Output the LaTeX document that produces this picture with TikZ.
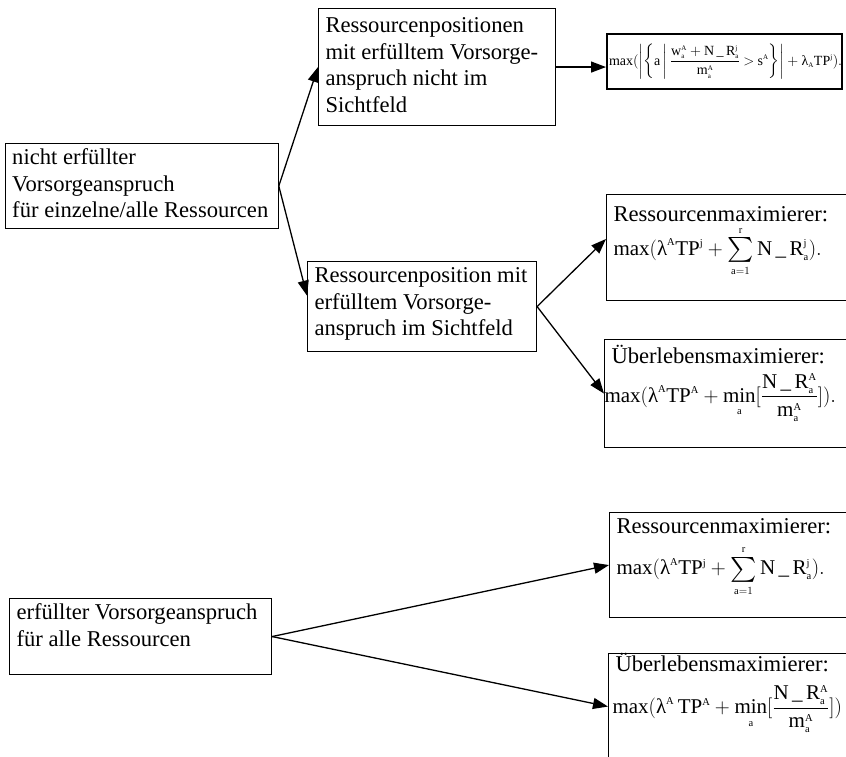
\documentclass[tikz,border=0pt]{standalone}
\usepackage{amsmath}
\usepackage{graphicx}
\usepackage{fontspec}
\setmainfont{Liberation Serif}
\usetikzlibrary{arrows.meta,calc}

% #1 width, #2 height, #3 top padding, #4 lines
\newcommand\boxtext[4]{%
  \parbox[c][#2pt][t]{#1pt}{\fontsize{22.6}{26.7}\selectfont\vspace*{#3pt}#4}}
\newcommand\up[1]{\mathrm{#1}}
\newcommand\tsup[1]{^{\scriptscriptstyle\mathrm{#1}}}
\newcommand\tsub[1]{_{\scriptscriptstyle\mathrm{#1}}}
\newcommand\lam{\text{λ}}
\newcommand\NR{\up{N}\,\_\,\up{R}}
\newcommand\midsum{\mathop{\vcenter{\hbox{\scalebox{1.2}{$\textstyle\sum$}}}}\limits}
\newcommand\tight{\medmuskip=4mu plus 1mu\thickmuskip=4mu plus 2mu}
\newcommand\sumform{\up{max}(\lam\tsup{A}\up{TP}\tsup{j}+\midsum_{\scriptscriptstyle\up{a}=1}^{\scriptscriptstyle\up{r}}\NR\tsup{j}\tsub{a})}
\newcommand\minform[1]{\up{max}(\lam\tsup{A}#1\up{TP}\tsup{A}+\mathop{\up{min}}\limits\tsub{a}[\frac{\NR\tsup{A}\tsub{a}}{\up{m}\tsup{A}\tsub{a}}])}
\newcommand\formsize{\fontsize{21}{24}\selectfont\tight}

\tikzset{
  frame/.style={draw, line width=1.1pt, rectangle, anchor=north west,
    inner xsep=7pt, inner ysep=0pt, fill=white},
  link/.style={line width=1.3pt, -{Triangle[length=15pt,width=11pt]}},
}

\begin{document}
\begin{tikzpicture}[x=1pt,y=1pt]
\useasboundingbox (0,0) rectangle (846,-757);
\clip (0,0) rectangle (846,-757);

% left column
\node[frame, minimum width=273pt, minimum height=85pt] (A) at (4.7,-143)
  {\boxtext{259}{85}{5}{\mbox{nicht erfüllter}\\\mbox{Vorsorgeanspruch}\\\mbox{für einzelne/alle Ressourcen}}};
\node[frame, minimum width=262pt, minimum height=76pt] (G) at (9,-598)
  {\boxtext{248}{76}{5}{\mbox{erfüllter Vorsorgeanspruch}\\\mbox{für alle Ressourcen}}};

% middle column
\node[frame, minimum width=237pt, minimum height=117pt] (B) at (318,-8)
  {\boxtext{223}{117}{9}{\mbox{Ressourcenpositionen}\\\mbox{mit erfülltem Vorsorge-}\\\mbox{anspruch nicht im}\\\mbox{Sichtfeld}}};
\node[frame, minimum width=229pt, minimum height=90pt] (C) at (307,-261)
  {\boxtext{215}{90}{6}{\mbox{Ressourcenposition mit}\\\mbox{erfülltem Vorsorge-}\\\mbox{anspruch im Sichtfeld}}};

% right column
\node[frame, line width=2pt, inner xsep=2pt, minimum width=235pt, minimum height=55pt] (F) at (606,-33)
  {\makebox[231pt][l]{\fontsize{14}{17}\selectfont\tight$\displaystyle
   \up{max}(\left|\left\{\up{a}\,\middle|\,\frac{\up{w}\tsup{A}\tsub{a}+\NR\tsup{j}\tsub{a}}{\up{m}\tsup{A}\tsub{a}}>\up{s}\tsup{A}\right\}\right|+\lam\tsub{A}\up{TP}\tsup{j}).$}};

\node[frame, minimum width=260pt, minimum height=106pt] (D) at (606,-194)
  {\boxtext{246}{106}{12}{\mbox{Ressourcenmaximierer:}\\[7pt]\mbox{\formsize\smash{$\displaystyle\sumform.$}}}};
\node[frame, minimum width=260pt, minimum height=108pt] (E) at (604,-339)
  {\boxtext{246}{108}{5.5}{\mbox{Überlebensmaximierer:}\\[12pt]\mbox{\hspace*{-7pt}\formsize\smash{$\displaystyle\minform{}.$}}}};
\node[frame, minimum width=260pt, minimum height=105pt] (H) at (609,-512)
  {\boxtext{246}{105}{5.5}{\mbox{Ressourcenmaximierer:}\\[15pt]\mbox{\formsize\smash{$\displaystyle\sumform.$}}}};
\node[frame, minimum width=260pt, minimum height=106pt] (I) at (608,-653)
  {\boxtext{246}{106}{0}{\mbox{Überlebensmaximierer:}\\[15pt]\mbox{\hspace*{-3pt}\formsize\smash{$\displaystyle\minform{\,}$}}}};

% connectors
\draw[link] (A.east) -- (B.west);
\draw[link] (A.east) -- ($(C.north west)!0.38!(C.south west)$);
\draw[link] (B.east) -- (B.east -| F.west);
\draw[link] (C.east) -- ($(D.north west)!0.42!(D.south west)$);
\draw[link] (C.east) -- (E.west);
\draw[link] (G.east) -- (H.west);
\draw[link] (G.east) -- (I.west);
\end{tikzpicture}
\end{document}
